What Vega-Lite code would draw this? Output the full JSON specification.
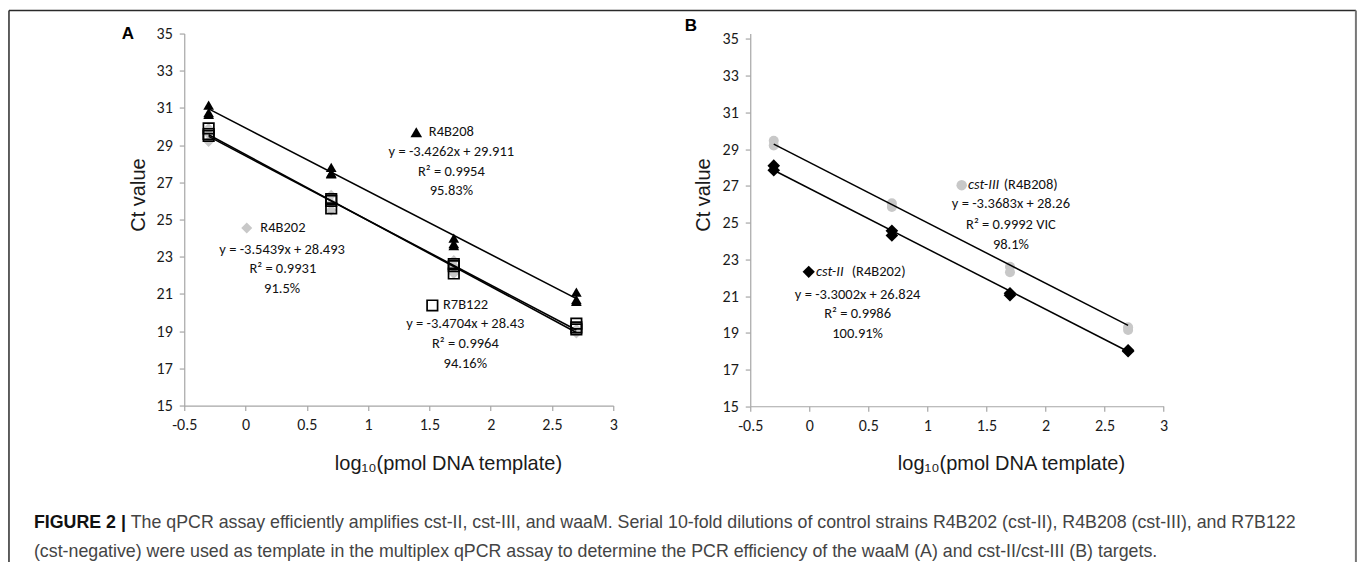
{
  "$schema": "https://vega.github.io/schema/vega-lite/v6.json",
  "background": "white",
  "padding": {"left": 7.25, "top": 8.55, "right": 0, "bottom": 0},
  "bounds": "flush",
  "columns": 2,
  "spacing": {"column": 137, "row": 111},
  "config": {
    "view": {"stroke": null},
    "axis": {
      "grid": false,
      "domainColor": "#a6a6a6",
      "domainWidth": 1.2,
      "tickColor": "#a6a6a6",
      "tickWidth": 1.2,
      "tickSize": 5,
      "labelFont": "Carlito, Open Sans",
      "labelFontSize": 16,
      "labelColor": "#1a1a1a",
      "labelFlush": false,
      "labelOverlap": false,
      "titleFont": "Liberation Sans",
      "titleFontSize": 20,
      "titleFontWeight": "normal",
      "titleColor": "#1a1a1a"
    },
    "axisY": {"labelPadding": 7},
    "axisX": {"labelPadding": 6}
  },
  "datasets": {
    "pts": [
      {"panel": "A", "series": "R4B202", "x": -0.301, "ct": 29.2},
      {"panel": "A", "series": "R4B202", "x": -0.301, "ct": 29.6},
      {"panel": "A", "series": "R4B202", "x": -0.301, "ct": 29.9},
      {"panel": "A", "series": "R4B202", "x": 0.699, "ct": 26.3},
      {"panel": "A", "series": "R4B202", "x": 0.699, "ct": 25.9},
      {"panel": "A", "series": "R4B202", "x": 0.699, "ct": 25.5},
      {"panel": "A", "series": "R4B202", "x": 1.699, "ct": 22.8},
      {"panel": "A", "series": "R4B202", "x": 1.699, "ct": 22.5},
      {"panel": "A", "series": "R4B202", "x": 1.699, "ct": 22.1},
      {"panel": "A", "series": "R4B202", "x": 2.699, "ct": 19.1},
      {"panel": "A", "series": "R4B202", "x": 2.699, "ct": 18.95},
      {"panel": "A", "series": "R4B202", "x": 2.699, "ct": 18.9},
      {"panel": "A", "series": "R4B208", "x": -0.301, "ct": 31.15},
      {"panel": "A", "series": "R4B208", "x": -0.301, "ct": 30.75},
      {"panel": "A", "series": "R4B208", "x": -0.301, "ct": 30.65},
      {"panel": "A", "series": "R4B208", "x": 0.699, "ct": 27.8},
      {"panel": "A", "series": "R4B208", "x": 0.699, "ct": 27.5},
      {"panel": "A", "series": "R4B208", "x": 0.699, "ct": 27.45},
      {"panel": "A", "series": "R4B208", "x": 1.699, "ct": 24.0},
      {"panel": "A", "series": "R4B208", "x": 1.699, "ct": 23.7},
      {"panel": "A", "series": "R4B208", "x": 1.699, "ct": 23.6},
      {"panel": "A", "series": "R4B208", "x": 2.699, "ct": 21.1},
      {"panel": "A", "series": "R4B208", "x": 2.699, "ct": 20.7},
      {"panel": "A", "series": "R4B208", "x": 2.699, "ct": 20.6},
      {"panel": "A", "series": "R7B122", "x": -0.301, "ct": 29.9},
      {"panel": "A", "series": "R7B122", "x": -0.301, "ct": 29.6},
      {"panel": "A", "series": "R7B122", "x": -0.301, "ct": 29.5},
      {"panel": "A", "series": "R7B122", "x": 0.699, "ct": 26.1},
      {"panel": "A", "series": "R7B122", "x": 0.699, "ct": 26.0},
      {"panel": "A", "series": "R7B122", "x": 0.699, "ct": 25.6},
      {"panel": "A", "series": "R7B122", "x": 1.699, "ct": 22.6},
      {"panel": "A", "series": "R7B122", "x": 1.699, "ct": 22.5},
      {"panel": "A", "series": "R7B122", "x": 1.699, "ct": 22.1},
      {"panel": "A", "series": "R7B122", "x": 2.699, "ct": 19.4},
      {"panel": "A", "series": "R7B122", "x": 2.699, "ct": 19.2},
      {"panel": "A", "series": "R7B122", "x": 2.699, "ct": 19.1},
      {"panel": "B", "series": "cst-III", "x": -0.301, "ct": 29.45},
      {"panel": "B", "series": "cst-III", "x": -0.301, "ct": 29.2},
      {"panel": "B", "series": "cst-III", "x": 0.699, "ct": 26.05},
      {"panel": "B", "series": "cst-III", "x": 0.699, "ct": 25.85},
      {"panel": "B", "series": "cst-III", "x": 1.699, "ct": 22.6},
      {"panel": "B", "series": "cst-III", "x": 1.699, "ct": 22.3},
      {"panel": "B", "series": "cst-III", "x": 2.699, "ct": 19.3},
      {"panel": "B", "series": "cst-III", "x": 2.699, "ct": 19.15},
      {"panel": "B", "series": "cst-II", "x": -0.301, "ct": 28.1},
      {"panel": "B", "series": "cst-II", "x": -0.301, "ct": 27.85},
      {"panel": "B", "series": "cst-II", "x": 0.699, "ct": 24.55},
      {"panel": "B", "series": "cst-II", "x": 0.699, "ct": 24.3},
      {"panel": "B", "series": "cst-II", "x": 1.699, "ct": 21.15},
      {"panel": "B", "series": "cst-II", "x": 1.699, "ct": 21.05},
      {"panel": "B", "series": "cst-II", "x": 2.699, "ct": 18.05},
      {"panel": "B", "series": "cst-II", "x": 2.699, "ct": 18.0}
    ],
    "lines": [
      {"panel": "A", "series": "R4B208", "x": -0.301, "ct": 30.95},
      {"panel": "A", "series": "R4B208", "x": 2.699, "ct": 20.75},
      {"panel": "A", "series": "R4B202", "x": -0.301, "ct": 29.56},
      {"panel": "A", "series": "R4B202", "x": 2.699, "ct": 18.93},
      {"panel": "A", "series": "R7B122", "x": -0.301, "ct": 29.47},
      {"panel": "A", "series": "R7B122", "x": 2.699, "ct": 19.06},
      {"panel": "B", "series": "cst-III", "x": -0.301, "ct": 29.27},
      {"panel": "B", "series": "cst-III", "x": 2.699, "ct": 19.4},
      {"panel": "B", "series": "cst-II", "x": -0.301, "ct": 27.85},
      {"panel": "B", "series": "cst-II", "x": 2.699, "ct": 17.98}
    ],
    "keys": [
      {"panel": "A", "series": "R4B208", "x": 1.393, "ct": 29.69},
      {"panel": "A", "series": "R4B202", "x": 0.01, "ct": 24.54},
      {"panel": "A", "series": "R7B122", "x": 1.524, "ct": 20.38},
      {"panel": "B", "series": "cst-III", "x": 1.29, "ct": 27.04},
      {"panel": "B", "series": "cst-II", "x": -0.005, "ct": 22.32}
    ],
    "ann": [
      {"panel": "A", "kind": "strain", "x": 1.495, "ct": 29.69, "text": "R4B208"},
      {"panel": "A", "kind": "strain", "x": 0.121, "ct": 24.54, "text": "R4B202"},
      {"panel": "A", "kind": "strain", "x": 1.611, "ct": 20.38, "text": "R7B122"},
      {"panel": "A", "kind": "eq", "x": 1.679, "ct": 28.63, "text": "y = -3.4262x + 29.911"},
      {"panel": "A", "kind": "eq", "x": 1.679, "ct": 27.55, "text": "R² = 0.9954"},
      {"panel": "A", "kind": "eq", "x": 1.679, "ct": 26.51, "text": "95.83%"},
      {"panel": "A", "kind": "eq", "x": 0.298, "ct": 23.37, "text": "y = -3.5439x + 28.493"},
      {"panel": "A", "kind": "eq", "x": 0.304, "ct": 22.33, "text": "R² = 0.9931"},
      {"panel": "A", "kind": "eq", "x": 0.298, "ct": 21.28, "text": "91.5%"},
      {"panel": "A", "kind": "eq", "x": 1.793, "ct": 19.37, "text": "y = -3.4704x + 28.43"},
      {"panel": "A", "kind": "eq", "x": 1.793, "ct": 18.32, "text": "R² = 0.9964"},
      {"panel": "A", "kind": "eq", "x": 1.793, "ct": 17.24, "text": "94.16%"},
      {"panel": "A", "kind": "letter", "x": -0.959, "ct": 34.96, "text": "A"},
      {"panel": "B", "kind": "gene", "x": 1.343, "ct": 27.04, "text": "cst-III"},
      {"panel": "B", "kind": "strain", "x": 1.646, "ct": 27.04, "text": "(R4B208)"},
      {"panel": "B", "kind": "gene", "x": 0.056, "ct": 22.32, "text": "cst-II"},
      {"panel": "B", "kind": "strain", "x": 0.359, "ct": 22.32, "text": "(R4B202)"},
      {"panel": "B", "kind": "eq", "x": 1.707, "ct": 25.99, "text": "y = -3.3683x + 28.26"},
      {"panel": "B", "kind": "eq", "x": 1.707, "ct": 24.86, "text": "R² = 0.9992 VIC"},
      {"panel": "B", "kind": "eq", "x": 1.707, "ct": 23.77, "text": "98.1%"},
      {"panel": "B", "kind": "eq", "x": 0.409, "ct": 21.05, "text": "y = -3.3002x + 26.824"},
      {"panel": "B", "kind": "eq", "x": 0.409, "ct": 20.0, "text": "R² = 0.9986"},
      {"panel": "B", "kind": "eq", "x": 0.409, "ct": 18.91, "text": "100.91%"},
      {"panel": "B", "kind": "letter", "x": -1.002, "ct": 35.69, "text": "B"}
    ],
    "frame": [
      {"edge": "left", "x": -1.93, "x2": -1.93, "ct": 36.237, "ct2": 6.575},
      {"edge": "top", "x": -1.93, "x2": 9.059, "ct": 36.237, "ct2": 36.237},
      {"edge": "right", "x": 9.059, "x2": 9.059, "ct": 36.237, "ct2": 6.575}
    ],
    "caption": [
      {"part": "label", "row": 1, "text": "FIGURE 2 |"},
      {"part": "body", "row": 1, "text": "The qPCR assay efficiently amplifies cst-II, cst-III, and waaM. Serial 10-fold dilutions of control strains R4B202 (cst-II), R4B208 (cst-III), and R7B122"},
      {"part": "body", "row": 2, "text": "(cst-negative) were used as template in the multiplex qPCR assay to determine the PCR efficiency of the waaM (A) and cst-II/cst-III (B) targets."}
    ]
  },
  "concat": [
    {
      "width": 429,
      "height": 372,
      "encoding": {
        "x": {
          "field": "x", "type": "quantitative",
          "scale": {"domain": [-0.5, 3], "nice": false, "zero": false},
          "axis": {
            "values": [-0.5, 0, 0.5, 1, 1.5, 2, 2.5, 3],
            "labelExpr": "'' + datum.value",
            "title": "log₁₀(pmol DNA template)",
            "titleX": 263.7, "titleY": 58,
            "titleAlign": "center", "titleBaseline": "middle"
          }
        },
        "y": {
          "field": "ct", "type": "quantitative",
          "scale": {"domain": [15, 35], "nice": false, "zero": false},
          "axis": {
            "values": [15, 17, 19, 21, 23, 25, 27, 29, 31, 33, 35],
            "title": "Ct value",
            "titleX": -40, "titleY": 161, "titleAngle": -90,
            "titleAlign": "center", "titleBaseline": "alphabetic"
          }
        }
      },
      "layer": [
        {
          "data": {"name": "pts"},
          "transform": [{"filter": "datum.panel == 'A' && datum.series == 'R4B202'"}],
          "mark": {"type": "point", "shape": "diamond", "filled": true, "color": "#c8c8c8", "size": 121, "opacity": 1}
        },
        {
          "data": {"name": "pts"},
          "transform": [{"filter": "datum.panel == 'A' && datum.series == 'R4B208'"}],
          "mark": {"type": "point", "shape": "triangle-up", "filled": true, "color": "#000000", "size": 115, "opacity": 1}
        },
        {
          "data": {"name": "pts"},
          "transform": [{"filter": "datum.panel == 'A' && datum.series == 'R7B122'"}],
          "mark": {"type": "point", "shape": "square", "filled": false, "stroke": "#000000", "strokeWidth": 1.7, "size": 110, "opacity": 1}
        },
        {
          "data": {"name": "lines"},
          "transform": [{"filter": "datum.panel == 'A'"}],
          "mark": {"type": "line", "color": "#000000", "strokeWidth": 1.6},
          "encoding": {"detail": {"field": "series"}}
        },
        {
          "data": {"name": "keys"},
          "transform": [{"filter": "datum.panel == 'A' && datum.series == 'R4B202'"}],
          "mark": {"type": "point", "shape": "diamond", "filled": true, "color": "#c8c8c8", "size": 121, "opacity": 1}
        },
        {
          "data": {"name": "keys"},
          "transform": [{"filter": "datum.panel == 'A' && datum.series == 'R4B208'"}],
          "mark": {"type": "point", "shape": "triangle-up", "filled": true, "color": "#000000", "size": 135, "opacity": 1}
        },
        {
          "data": {"name": "keys"},
          "transform": [{"filter": "datum.panel == 'A' && datum.series == 'R7B122'"}],
          "mark": {"type": "point", "shape": "square", "filled": false, "stroke": "#000000", "strokeWidth": 1.7, "size": 110, "opacity": 1}
        },
        {
          "data": {"name": "ann"},
          "transform": [{"filter": "datum.panel == 'A' && datum.kind == 'strain'"}],
          "mark": {"type": "text", "align": "left", "baseline": "middle", "font": "Carlito, Open Sans", "fontSize": 14.5, "color": "#111111"},
          "encoding": {"text": {"field": "text"}}
        },
        {
          "data": {"name": "ann"},
          "transform": [{"filter": "datum.panel == 'A' && datum.kind == 'eq'"}],
          "mark": {"type": "text", "align": "center", "baseline": "middle", "font": "Carlito, Open Sans", "fontSize": 14.5, "color": "#111111"},
          "encoding": {"text": {"field": "text"}}
        },
        {
          "data": {"name": "ann"},
          "transform": [{"filter": "datum.panel == 'A' && datum.kind == 'letter'"}],
          "mark": {"type": "text", "align": "center", "baseline": "middle", "font": "Liberation Sans", "fontSize": 17, "fontWeight": "bold", "color": "#000000"},
          "encoding": {"text": {"field": "text"}}
        },
        {
          "data": {"name": "frame"},
          "transform": [{"filter": "datum.edge != 'right'"}],
          "mark": {"type": "rule", "color": "#2a2a2a", "strokeWidth": 1.5},
          "encoding": {"x2": {"field": "x2"}, "y2": {"field": "ct2"}}
        },
        {
          "data": {"name": "frame"},
          "transform": [{"filter": "datum.edge == 'right'"}],
          "mark": {"type": "rule", "color": "#777777", "strokeWidth": 2},
          "encoding": {"x2": {"field": "x2"}, "y2": {"field": "ct2"}}
        }
      ]
    },
    {
      "width": 413.4,
      "height": 372.7,
      "encoding": {
        "x": {
          "field": "x", "type": "quantitative",
          "scale": {"domain": [-0.5, 3], "nice": false, "zero": false},
          "axis": {
            "values": [-0.5, 0, 0.5, 1, 1.5, 2, 2.5, 3],
            "labelExpr": "'' + datum.value",
            "title": "log₁₀(pmol DNA template)",
            "titleX": 260.7, "titleY": 57,
            "titleAlign": "center", "titleBaseline": "middle"
          }
        },
        "y": {
          "field": "ct", "type": "quantitative",
          "scale": {"domain": [15, 35.294], "nice": false, "zero": false},
          "axis": {
            "values": [15, 17, 19, 21, 23, 25, 27, 29, 31, 33, 35],
            "title": "Ct value",
            "titleX": -41, "titleY": 161, "titleAngle": -90,
            "titleAlign": "center", "titleBaseline": "alphabetic"
          }
        }
      },
      "layer": [
        {
          "data": {"name": "pts"},
          "transform": [{"filter": "datum.panel == 'B' && datum.series == 'cst-III'"}],
          "mark": {"type": "point", "shape": "circle", "filled": true, "color": "#c8c8c8", "size": 100, "opacity": 1}
        },
        {
          "data": {"name": "pts"},
          "transform": [{"filter": "datum.panel == 'B' && datum.series == 'cst-II'"}],
          "mark": {"type": "point", "shape": "diamond", "filled": true, "color": "#000000", "size": 160, "opacity": 1}
        },
        {
          "data": {"name": "lines"},
          "transform": [{"filter": "datum.panel == 'B'"}],
          "mark": {"type": "line", "color": "#000000", "strokeWidth": 1.5},
          "encoding": {"detail": {"field": "series"}}
        },
        {
          "data": {"name": "keys"},
          "transform": [{"filter": "datum.panel == 'B' && datum.series == 'cst-III'"}],
          "mark": {"type": "point", "shape": "circle", "filled": true, "color": "#c8c8c8", "size": 110, "opacity": 1}
        },
        {
          "data": {"name": "keys"},
          "transform": [{"filter": "datum.panel == 'B' && datum.series == 'cst-II'"}],
          "mark": {"type": "point", "shape": "diamond", "filled": true, "color": "#000000", "size": 150, "opacity": 1}
        },
        {
          "data": {"name": "ann"},
          "transform": [{"filter": "datum.panel == 'B' && datum.kind == 'gene'"}],
          "mark": {"type": "text", "align": "left", "baseline": "middle", "font": "Carlito, Open Sans", "fontSize": 14.5, "fontStyle": "italic", "color": "#111111"},
          "encoding": {"text": {"field": "text"}}
        },
        {
          "data": {"name": "ann"},
          "transform": [{"filter": "datum.panel == 'B' && datum.kind == 'strain'"}],
          "mark": {"type": "text", "align": "left", "baseline": "middle", "font": "Carlito, Open Sans", "fontSize": 14.5, "color": "#111111"},
          "encoding": {"text": {"field": "text"}}
        },
        {
          "data": {"name": "ann"},
          "transform": [{"filter": "datum.panel == 'B' && datum.kind == 'eq'"}],
          "mark": {"type": "text", "align": "center", "baseline": "middle", "font": "Carlito, Open Sans", "fontSize": 14.5, "color": "#111111"},
          "encoding": {"text": {"field": "text"}}
        },
        {
          "data": {"name": "ann"},
          "transform": [{"filter": "datum.panel == 'B' && datum.kind == 'letter'"}],
          "mark": {"type": "text", "align": "center", "baseline": "middle", "font": "Liberation Sans", "fontSize": 17, "fontWeight": "bold", "color": "#000000"},
          "encoding": {"text": {"field": "text"}}
        }
      ]
    },
    {
      "width": 429,
      "height": 40,
      "data": {"name": "caption"},
      "encoding": {
        "y": {"field": "row", "type": "ordinal", "axis": null, "scale": {"type": "point", "padding": 0.1897}}
      },
      "layer": [
        {
          "transform": [{"filter": "datum.part == 'label'"}],
          "mark": {"type": "text", "align": "left", "baseline": "middle", "font": "Liberation Sans", "fontSize": 17.8, "fontWeight": "bold", "color": "#111111"},
          "encoding": {
            "x": {"datum": -150.3, "type": "quantitative", "scale": {"domain": [0, 429]}, "axis": null},
            "text": {"field": "text"}
          }
        },
        {
          "transform": [{"filter": "datum.part == 'body' && datum.row == 1"}],
          "mark": {"type": "text", "align": "left", "baseline": "middle", "font": "Liberation Sans", "fontSize": 17.8, "color": "#444444"},
          "encoding": {
            "x": {"datum": -53.5, "type": "quantitative", "scale": {"domain": [0, 429]}, "axis": null},
            "text": {"field": "text"}
          }
        },
        {
          "transform": [{"filter": "datum.part == 'body' && datum.row == 2"}],
          "mark": {"type": "text", "align": "left", "baseline": "middle", "font": "Liberation Sans", "fontSize": 17.8, "color": "#444444"},
          "encoding": {
            "x": {"datum": -150.3, "type": "quantitative", "scale": {"domain": [0, 429]}, "axis": null},
            "text": {"field": "text"}
          }
        }
      ]
    }
  ]
}
